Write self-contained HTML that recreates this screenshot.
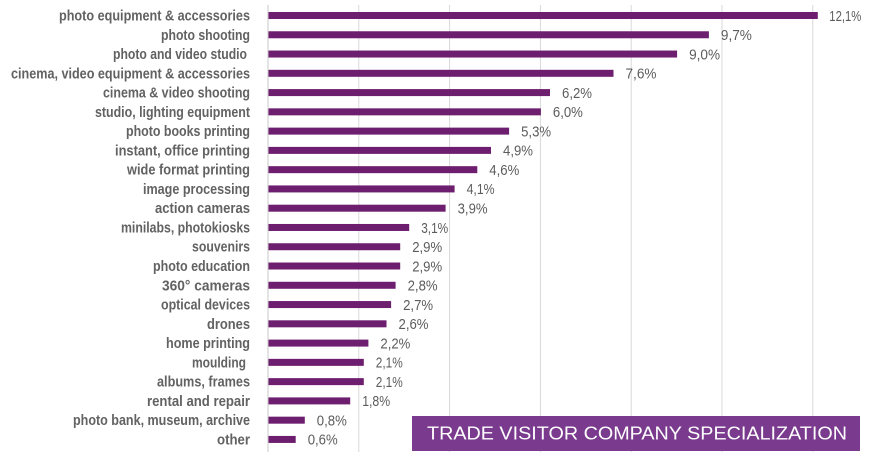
<!DOCTYPE html>
<html><head><meta charset="utf-8"><style>
html,body{margin:0;padding:0;background:#fff;}
svg{display:block;}
.l{font-family:"Liberation Sans Narrow","Liberation Sans",sans-serif;font-size:15px;font-weight:bold;fill:#626262;}
.v{font-family:"Liberation Sans Narrow","Liberation Sans",sans-serif;font-size:14.5px;fill:#5c5c5c;}
.t{font-family:"Liberation Sans","DejaVu Sans",sans-serif;font-size:18.5px;fill:#fff;}
</style></head><body>
<svg width="875" height="456" viewBox="0 0 875 456" xmlns="http://www.w3.org/2000/svg">
<rect width="875" height="456" fill="#fff"/>
<g stroke="#d9d9d9" stroke-width="1">
<line x1="358.8" y1="5" x2="358.8" y2="452"/>
<line x1="449.6" y1="5" x2="449.6" y2="452"/>
<line x1="540.4" y1="5" x2="540.4" y2="452"/>
<line x1="631.2" y1="5" x2="631.2" y2="452"/>
<line x1="722" y1="5" x2="722" y2="452"/>
<line x1="812.8" y1="5" x2="812.8" y2="452"/>
</g>
<line x1="268" y1="5" x2="268" y2="452" stroke="#c8c8c8" stroke-width="1"/>
<g fill="#6e1e6f">
<rect x="268.5" y="12" width="549.3" height="7"/>
<rect x="268.5" y="31.27" width="440.4" height="7"/>
<rect x="268.5" y="50.54" width="408.6" height="7"/>
<rect x="268.5" y="69.81" width="345.0" height="7"/>
<rect x="268.5" y="89.08" width="281.5" height="7"/>
<rect x="268.5" y="108.35" width="272.4" height="7"/>
<rect x="268.5" y="127.62" width="240.6" height="7"/>
<rect x="268.5" y="146.89" width="222.5" height="7"/>
<rect x="268.5" y="166.16" width="208.8" height="7"/>
<rect x="268.5" y="185.43" width="186.1" height="7"/>
<rect x="268.5" y="204.7" width="177.1" height="7"/>
<rect x="268.5" y="223.97" width="140.7" height="7"/>
<rect x="268.5" y="243.24" width="131.7" height="7"/>
<rect x="268.5" y="262.51" width="131.7" height="7"/>
<rect x="268.5" y="281.78" width="127.1" height="7"/>
<rect x="268.5" y="301.05" width="122.6" height="7"/>
<rect x="268.5" y="320.32" width="118.0" height="7"/>
<rect x="268.5" y="339.59" width="99.9" height="7"/>
<rect x="268.5" y="358.86" width="95.3" height="7"/>
<rect x="268.5" y="378.13" width="95.3" height="7"/>
<rect x="268.5" y="397.4" width="81.7" height="7"/>
<rect x="268.5" y="416.67" width="36.3" height="7"/>
<rect x="268.5" y="435.94" width="27.2" height="7"/>
</g>
<g class="l">
<text x="59" y="20.5" textLength="191" lengthAdjust="spacingAndGlyphs">photo equipment &amp; accessories</text>
<text x="161" y="39.77" textLength="89" lengthAdjust="spacingAndGlyphs">photo shooting</text>
<text x="113" y="59.04" textLength="134" lengthAdjust="spacingAndGlyphs">photo and video studio</text>
<text x="11" y="78.31" textLength="239" lengthAdjust="spacingAndGlyphs">cinema, video equipment &amp; accessories</text>
<text x="103" y="97.58" textLength="147" lengthAdjust="spacingAndGlyphs">cinema &amp; video shooting</text>
<text x="95" y="116.85" textLength="155" lengthAdjust="spacingAndGlyphs">studio, lighting equipment</text>
<text x="126" y="136.12" textLength="124" lengthAdjust="spacingAndGlyphs">photo books printing</text>
<text x="115" y="155.39" textLength="135" lengthAdjust="spacingAndGlyphs">instant, office printing</text>
<text x="127" y="174.66" textLength="123" lengthAdjust="spacingAndGlyphs">wide format printing</text>
<text x="143" y="193.93" textLength="107" lengthAdjust="spacingAndGlyphs">image processing</text>
<text x="155" y="213.2" textLength="95" lengthAdjust="spacingAndGlyphs">action cameras</text>
<text x="121" y="232.47" textLength="129" lengthAdjust="spacingAndGlyphs">minilabs, photokiosks</text>
<text x="192" y="251.74" textLength="58" lengthAdjust="spacingAndGlyphs">souvenirs</text>
<text x="153" y="271.01" textLength="97" lengthAdjust="spacingAndGlyphs">photo education</text>
<text x="162" y="290.28" textLength="88" lengthAdjust="spacingAndGlyphs">360° cameras</text>
<text x="161" y="309.55" textLength="89" lengthAdjust="spacingAndGlyphs">optical devices</text>
<text x="207" y="328.82" textLength="43" lengthAdjust="spacingAndGlyphs">drones</text>
<text x="166" y="348.09" textLength="84" lengthAdjust="spacingAndGlyphs">home printing</text>
<text x="192" y="367.36" textLength="54" lengthAdjust="spacingAndGlyphs">moulding</text>
<text x="157" y="386.63" textLength="93" lengthAdjust="spacingAndGlyphs">albums, frames</text>
<text x="147" y="405.9" textLength="103" lengthAdjust="spacingAndGlyphs">rental and repair</text>
<text x="73" y="425.17" textLength="177" lengthAdjust="spacingAndGlyphs">photo bank, museum, archive</text>
<text x="217" y="444.44" textLength="33" lengthAdjust="spacingAndGlyphs">other</text>
</g>
<g class="v">
<text x="829.3" y="20.8" textLength="32" lengthAdjust="spacingAndGlyphs">12,1%</text>
<text x="720.9" y="40.07" textLength="31" lengthAdjust="spacingAndGlyphs">9,7%</text>
<text x="689.1" y="59.34" textLength="31" lengthAdjust="spacingAndGlyphs">9,0%</text>
<text x="625.5" y="78.61" textLength="31" lengthAdjust="spacingAndGlyphs">7,6%</text>
<text x="562" y="97.88" textLength="30" lengthAdjust="spacingAndGlyphs">6,2%</text>
<text x="552.9" y="117.15" textLength="30" lengthAdjust="spacingAndGlyphs">6,0%</text>
<text x="521.1" y="136.42" textLength="30" lengthAdjust="spacingAndGlyphs">5,3%</text>
<text x="503" y="155.69" textLength="30" lengthAdjust="spacingAndGlyphs">4,9%</text>
<text x="489.3" y="174.96" textLength="30" lengthAdjust="spacingAndGlyphs">4,6%</text>
<text x="466.6" y="194.23" textLength="28" lengthAdjust="spacingAndGlyphs">4,1%</text>
<text x="457.6" y="213.5" textLength="30" lengthAdjust="spacingAndGlyphs">3,9%</text>
<text x="421.2" y="232.77" textLength="27" lengthAdjust="spacingAndGlyphs">3,1%</text>
<text x="412.2" y="252.04" textLength="30" lengthAdjust="spacingAndGlyphs">2,9%</text>
<text x="412.2" y="271.31" textLength="30" lengthAdjust="spacingAndGlyphs">2,9%</text>
<text x="407.6" y="290.58" textLength="30" lengthAdjust="spacingAndGlyphs">2,8%</text>
<text x="403.1" y="309.85" textLength="30" lengthAdjust="spacingAndGlyphs">2,7%</text>
<text x="398.5" y="329.12" textLength="30" lengthAdjust="spacingAndGlyphs">2,6%</text>
<text x="380.4" y="348.39" textLength="30" lengthAdjust="spacingAndGlyphs">2,2%</text>
<text x="375.8" y="367.66" textLength="27" lengthAdjust="spacingAndGlyphs">2,1%</text>
<text x="375.8" y="386.93" textLength="27" lengthAdjust="spacingAndGlyphs">2,1%</text>
<text x="362.2" y="406.2" textLength="28" lengthAdjust="spacingAndGlyphs">1,8%</text>
<text x="316.8" y="425.47" textLength="30" lengthAdjust="spacingAndGlyphs">0,8%</text>
<text x="307.7" y="444.74" textLength="30" lengthAdjust="spacingAndGlyphs">0,6%</text>
</g>
<rect x="412" y="416" width="448" height="35" fill="#7a3a8e"/>
<text class="t" x="427" y="439.5" textLength="420" lengthAdjust="spacingAndGlyphs">TRADE VISITOR COMPANY SPECIALIZATION</text>
</svg>
</body></html>
